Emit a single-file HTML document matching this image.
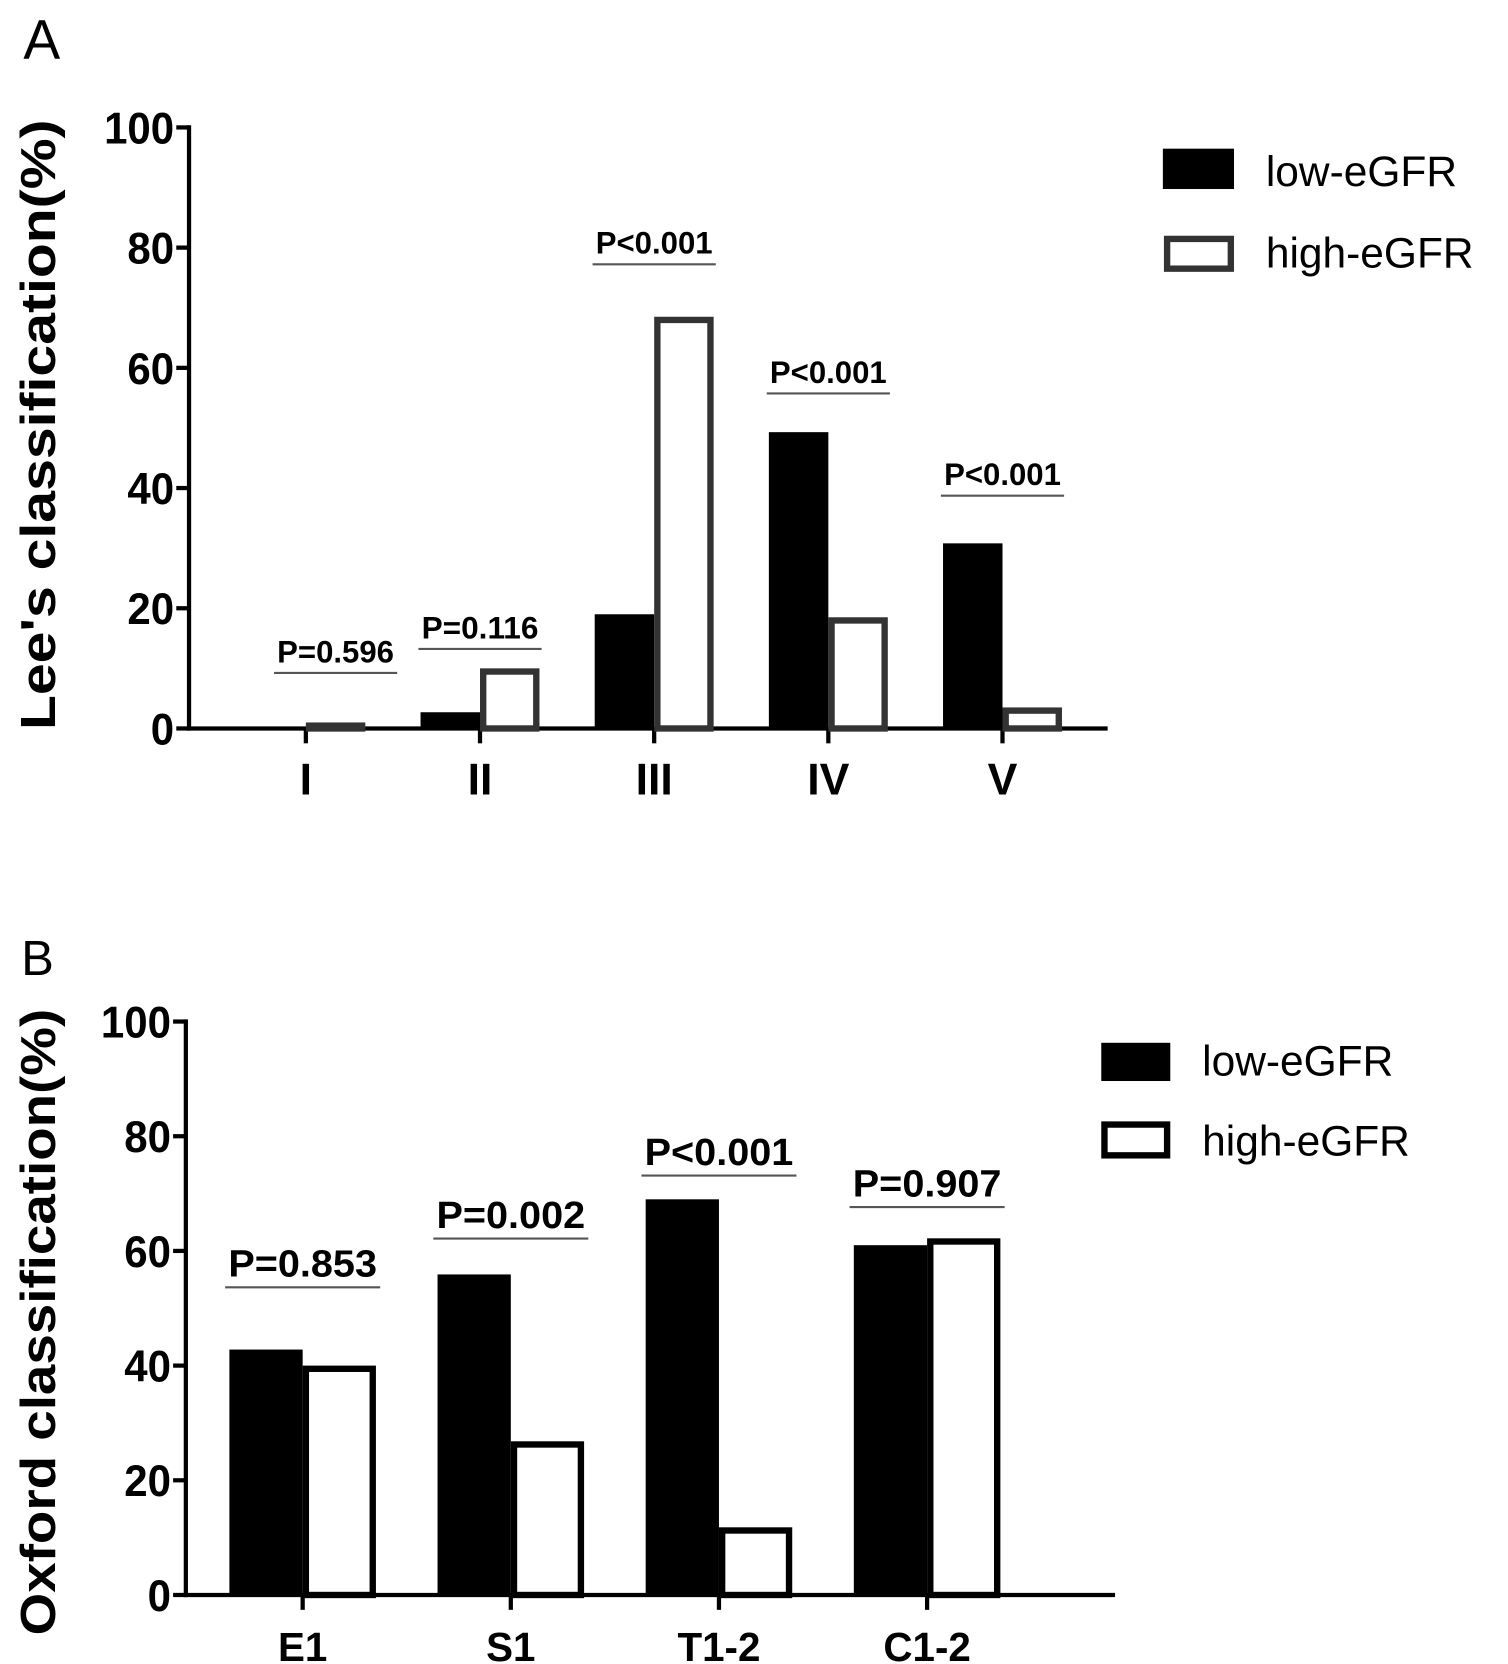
<!DOCTYPE html>
<html><head><meta charset="utf-8"><style>
html,body{margin:0;padding:0;background:#fff;}
svg{display:block;font-family:"Liberation Sans",sans-serif;}
</style></head><body>
<svg id="fig" width="1508" height="1664" viewBox="0 0 1420 1567" preserveAspectRatio="none" xmlns="http://www.w3.org/2000/svg">
<text x="22" y="55" font-size="52">A</text>
<text x="20" y="918" font-size="46">B</text>
<text transform="translate(52,400) rotate(-90)" text-anchor="middle" font-size="46" font-weight="bold" textLength="575" lengthAdjust="spacingAndGlyphs">Lee's classification(%)</text>
<text transform="translate(52,1245) rotate(-90)" text-anchor="middle" font-size="46" font-weight="bold" textLength="590" lengthAdjust="spacingAndGlyphs">Oxford classification(%)</text>
<g id="ga"></g><g id="gb"></g>
<rect x="1095" y="140" width="67" height="38" fill="#000"/>
<text x="1192" y="175" font-size="40">low-eGFR</text>
<rect x="1099" y="225" width="60" height="28" fill="#fff" stroke="#333" stroke-width="6"/>
<text x="1192" y="252" font-size="40">high-eGFR</text>
<rect x="1037" y="982" width="65" height="36" fill="#000"/>
<text x="1132" y="1013" font-size="40">low-eGFR</text>
<rect x="1040" y="1059" width="59" height="29" fill="#fff" stroke="#000" stroke-width="6"/>
<text x="1132" y="1088" font-size="40">high-eGFR</text>
</svg>
<script>
const catsA=["I","II","III","IV","V"];
const lowA=[0,2.7,19,49.3,30.8];
const highA=[1,10,68.5,18.5,3.5];
const pA=["P=0.596","P=0.116","P<0.001","P<0.001","P<0.001"];
const pYA=[11,15,79,57.5,40.5];
const catsB=["E1","S1","T1-2","C1-2"];
const lowB=[42.8,55.9,69,61];
const highB=[40,26.8,11.8,62.2];
const pB=["P=0.853","P=0.002","P<0.001","P=0.907"];
const pYB=[55.5,64,75,69.5];
const ticks=[0,20,40,60,80,100];
const NS="http://www.w3.org/2000/svg";
function mk(p,t,a){const e=document.createElementNS(NS,t);for(const k in a)e.setAttribute(k,a[k]);p.appendChild(e);return e;}
function chart(g,cfg){
  const y=v=>cfg.y0-(cfg.y0-cfg.y100)*v/100;
  const x=i=>cfg.x0+cfg.first+i*cfg.step;
  let e=mk(g,'line',{x1:cfg.ax,y1:cfg.y100-2,x2:cfg.ax,y2:cfg.y0+2,stroke:'#000','stroke-width':4});
  
  
  e=mk(g,'line',{x1:cfg.ax-2,y1:cfg.y0,x2:cfg.xend,y2:cfg.y0,stroke:'#000','stroke-width':4});
  
  
  ticks.forEach(t=>{
    e=mk(g,'line',{x1:cfg.ax-12,y1:y(t),x2:cfg.ax,y2:y(t),stroke:'#000','stroke-width':4});
    
    
    e=mk(g,'text',{x:cfg.ax-14,y:y(t)+15,'text-anchor':'end','font-size':42,'font-weight':'bold',textLength:String(t).length*22,lengthAdjust:'spacingAndGlyphs'});
    e.textContent=t;
    
    
  });
  cfg.cats.forEach((c,i)=>{
    const cx=x(i),w=cfg.bw;
    e=mk(g,'line',{x1:cx,y1:cfg.y0,x2:cx,y2:cfg.y0+14,stroke:'#000','stroke-width':4});
    
    
    e=mk(g,'text',{x:cx,y:cfg.y0+62,'text-anchor':'middle','font-size':cfg.xfs,'font-weight':'bold'});
    e.textContent=c;
    
    
    const lv=cfg.low[i];
    if(lv>0){
      e=mk(g,'rect',{x:cx-w,y:y(lv),width:w,height:cfg.y0-y(lv),fill:'#000'});
      
      
    }
    const hv=cfg.high[i];
    e=mk(g,'rect',{x:cx+3,y:y(hv)+3,width:w-6,height:Math.max(0,cfg.y0-y(hv)-3),fill:'#fff',stroke:cfg.stroke,'stroke-width':6});
    
    
    const py=y(cfg.pY[i]);
    const px=cx+(i===0?cfg.firstShift:0);
    e=mk(g,'text',{x:px,y:py,'text-anchor':'middle','font-size':cfg.pfs,'font-weight':'bold',textLength:cfg.pw,lengthAdjust:'spacingAndGlyphs'});
    e.textContent=cfg.p[i];
    
    
    e=mk(g,'line',{x1:px-cfg.pw/2-3,y1:py+10,x2:px+cfg.pw/2+3,y2:py+10,stroke:'#555','stroke-width':2});
    
    
  });
}
chart(document.getElementById('ga'),{cats:catsA,low:lowA,high:highA,p:pA,pY:pYA,ax:178,x0:178,first:110,step:164,xend:1043,y0:686,y100:120,bw:56,stroke:'#333',pfs:30,pw:110,firstShift:28,xfs:42});
chart(document.getElementById('gb'),{cats:catsB,low:lowB,high:highB,p:pB,pY:pYB,ax:175,x0:175,first:110,step:196,xend:1050,y0:1502,y100:962,bw:69,stroke:'#000',pfs:36,pw:140,firstShift:0,xfs:38});
</script>
</body></html>
